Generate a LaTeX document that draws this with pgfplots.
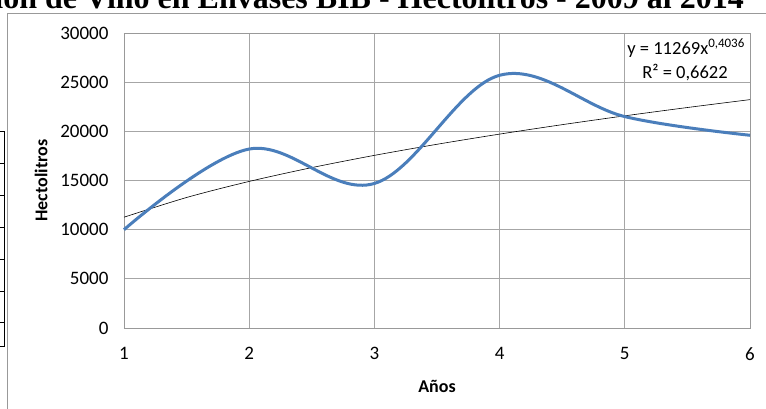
\documentclass[border=0pt]{standalone}
\usepackage{pgfplots}
\pgfplotsset{compat=1.18}
\usepackage{fontspec}
\setmainfont{Carlito}
\newfontfamily\titlefont{Liberation Serif}
\definecolor{xlblue}{HTML}{4A7EBB}
\begin{document}
\begin{tikzpicture}[x=1pt,y=1pt]
\clip (0,0) rectangle (766,-408);
\fill[white] (0,0) rectangle (766,-408);
% title (cut off)
\node[anchor=base east,inner sep=0pt,font=\titlefont\bfseries\fontsize{32}{32}\selectfont] at (744,-8) {Evolución de Vino en Envases BIB - Hectolitros - 2009 al 2014};
% outer frame
\draw[gray!80,line width=0.8pt] (7.5,-13.5) rectangle (790,-430);
% left table fragment
\draw[black,line width=0.8pt] (4.7,-131) -- (4.7,-346);
\foreach \yy in {131,163,195,227,259,291,322,346}{\draw[black,line width=0.8pt] (-2,-\yy) -- (4.7,-\yy);}
\begin{axis}[
  at={(124pt,-328pt)}, anchor=south west,
  scale only axis, width=626pt, height=295pt,
  xmin=1, xmax=6, ymin=0, ymax=30000,
  xtick={1,2,3,4,5,6}, ytick={0,5000,10000,15000,20000,25000,30000},
  grid=major, grid style={gray!70, line width=0.7pt},
  axis line style={gray!80, line width=0.7pt},
  major tick length=0pt,
  scaled y ticks=false,
  /pgf/number format/assume math mode=true,
  /pgf/number format/1000 sep={},
  ticklabel style={font=\fontsize{19}{20}\selectfont},
  xticklabel style={yshift=-16pt},
  yticklabel style={xshift=-12pt},
  xlabel={\textbf{Años}}, ylabel={\textbf{Hectolitros}},
  label style={font=\fontsize{18}{20}\selectfont},
  xlabel style={yshift=-13pt},
  ylabel style={yshift=6pt},
  clip=false,
]
\addplot[black, line width=0.6pt, smooth] coordinates {
(1,11269)(1.5,13273)(2,14907)(2.5,16312)(3,17557)(3.5,18684)(4,19719)(4.5,20679)(5,21577)(5.5,22423)(6,23226)};
\addplot[xlblue, line width=3pt, smooth, tension=0.6] coordinates {
(1,10000)(2,18200)(3,14700)(4,25700)(5,21500)(6,19600)};
\end{axis}
\node[anchor=base east,inner sep=0pt,font=\fontsize{18.5}{18.5}\selectfont] at (745,-54) {y = 11269x\textsuperscript{0,4036}};
\node[anchor=base,inner sep=0pt,font=\fontsize{18.5}{18.5}\selectfont] at (685,-78) {R² = 0,6622};
\end{tikzpicture}
\end{document}
